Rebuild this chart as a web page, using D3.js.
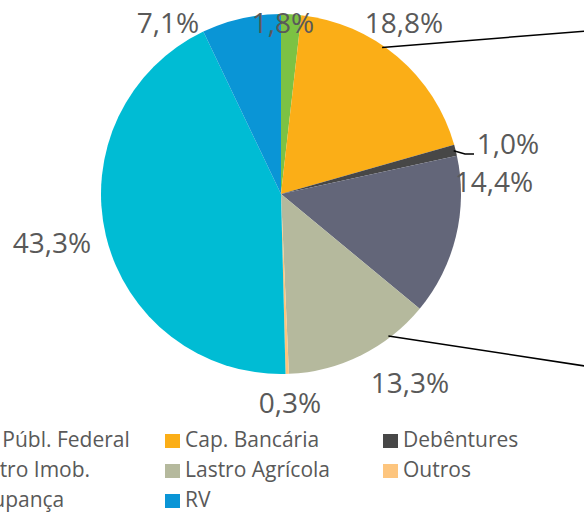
<!DOCTYPE html>
<html>
<head>
<meta charset="utf-8">
<script src="https://cdn.jsdelivr.net/npm/d3@7"></script>
<style>
  body { margin: 0; background: #fff; }
  svg { display: block; font-family: "Open Sans", sans-serif; }
</style>
</head>
<body>
<div id="chart"></div>
<script>
var categories = ["Tít. Públ. Federal", "Cap. Bancária", "Debêntures", "Lastro Imob.",
                  "Lastro Agrícola", "Outros", "Poupança", "RV"];
var values = [1.8, 18.8, 1.0, 14.4, 13.3, 0.3, 43.3, 7.1];
var labels = ["1,8%", "18,8%", "1,0%", "14,4%", "13,3%", "0,3%", "43,3%", "7,1%"];

var colors = ["#7cc243", "#fbae17", "#474747", "#636679", "#b5b99d", "#fdc57e", "#00bcd4", "#0a95d6"];

var width = 584,
    height = 513,
    cx = 281,
    cy = 194,
    radius = 180;

// label centre offsets from pie centre (Excel places these by hand)
var labelPos = [[2, -171], [123, -171], [227, -50], [213, -12],
                [129, 189], [9, 209], [-229, 49], [-113, -171]];

// leader lines: slice index, angle on the rim (deg), then points relative to centre
var leaders = [
  { i: 1, angle: 34.6, pts: [[330, -165]] },
  { i: 2, angle: null, pts: [[184, -40], [193, -40]] },
  { i: 4, angle: 142.9, pts: [[330, 176]] }
];

var svg = d3.select("#chart").append("svg")
    .attr("width", width)
    .attr("height", height);

var g = svg.append("g").attr("transform", "translate(" + cx + "," + cy + ")");

var pie = d3.pie().sort(null).value(function(d) { return d; });
var arcs = pie(values);

var arc = d3.arc().innerRadius(0).outerRadius(radius);

g.selectAll("path.slice")
    .data(arcs)
  .enter().append("path")
    .attr("class", "slice")
    .attr("d", arc)
    .attr("fill", function(d, i) { return colors[i]; });

function polar(deg, r) {
  var a = deg * Math.PI / 180;
  return [r * Math.sin(a), -r * Math.cos(a)];
}

var line = d3.line();
leaders.forEach(function(l) {
  var a = arcs[l.i];
  var deg = l.angle != null ? l.angle : (a.startAngle + a.endAngle) / 2 * 180 / Math.PI;
  var pts = [polar(deg, radius - 2)].concat(l.pts);
  g.append("path")
      .attr("d", line(pts))
      .attr("fill", "none")
      .attr("stroke", "#000")
      .attr("stroke-width", 1.5);
});

g.selectAll("text.lbl")
    .data(arcs)
  .enter().append("text")
    .attr("class", "lbl")
    .attr("x", function(d, i) { return labelPos[i][0]; })
    .attr("y", function(d, i) { return labelPos[i][1] + 10; })
    .attr("text-anchor", "middle")
    .attr("fill", "#595959")
    .attr("font-size", 28)
    .text(function(d, i) { return labels[i]; });

// legend, three columns (first column runs off the left edge like the source)
var legend = svg.append("g");
var colX = [-53, 165, 383],
    rowY = [447, 477, 507];

var items = legend.selectAll("g")
    .data(categories)
  .enter().append("g")
    .attr("transform", function(d, i) {
      return "translate(" + colX[i % 3] + "," + rowY[Math.floor(i / 3)] + ")";
    });

items.append("rect")
    .attr("x", 0)
    .attr("y", -13)
    .attr("width", 15)
    .attr("height", 14)
    .attr("fill", function(d, i) { return colors[i]; });

items.append("text")
    .attr("x", 20)
    .attr("y", 0)
    .attr("fill", "#595959")
    .attr("font-size", 21)
    .text(function(d) { return d; });
</script>
</body>
</html>
